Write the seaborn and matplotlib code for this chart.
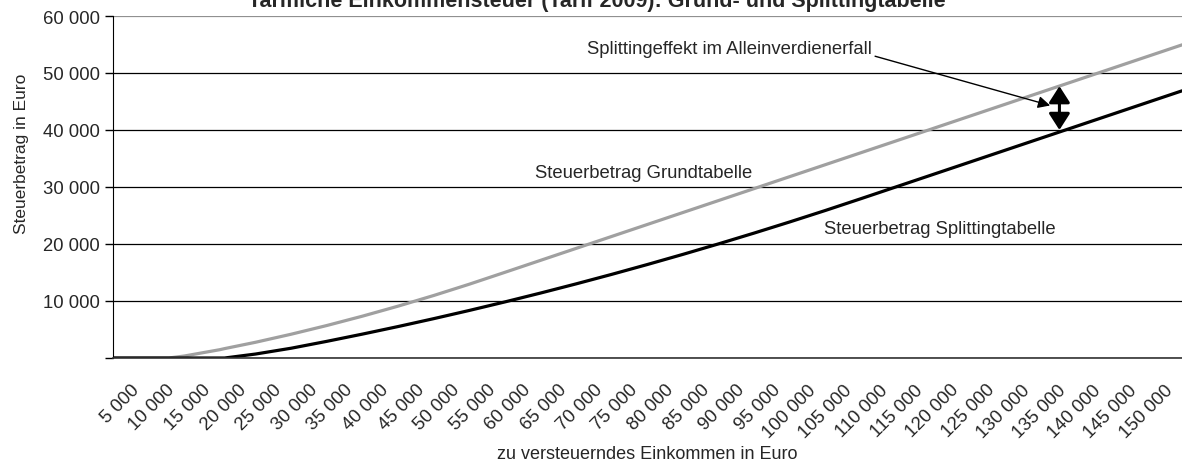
import pandas as pd
import seaborn as sns
import matplotlib.pyplot as plt
from matplotlib.transforms import ScaledTranslation

# zu versteuerndes Einkommen (Euro) and tax amounts
income = [0, 5000, 7834, 10000, 15000, 15668, 20000, 25000, 30000, 35000, 40000,
          45000, 50000, 55000, 60000, 65000, 70000, 75000, 80000, 85000, 90000,
          95000, 100000, 105000, 110000, 115000, 120000, 125000, 130000, 135000,
          140000, 145000, 150000]
grund = [0, 0, 0, 347, 1461, 1650, 2759, 4172, 5699, 7340, 9096,
         10966, 12950, 15036, 17136, 19236, 21336, 23436, 25536, 27636, 29736,
         31836, 33936, 36036, 38136, 40236, 42336, 44436, 46536, 48636,
         50736, 52836, 54936]
splitting = [0, 0, 0, 0, 0, 0, 695, 1716, 2922, 4192, 5518,
             6903, 8344, 9842, 11398, 13010, 14680, 16408, 18192, 20034, 21932,
             23888, 25900, 27972, 30072, 32172, 34272, 36372, 38472, 40572,
             42672, 44772, 46872]

x_ticks = list(range(5000, 150001, 5000))
x_labels = [f"{v:,}".replace(",", " ") for v in x_ticks]
y_ticks = [0, 10000, 20000, 30000, 40000, 50000, 60000]
y_labels = [""] + [f"{v:,}".replace(",", " ") for v in y_ticks[1:]]

df = pd.DataFrame({
    "Einkommen": income * 2,
    "Steuer": grund + splitting,
    "Tabelle": ["Grundtabelle"] * len(income) + ["Splittingtabelle"] * len(income),
})

sns.set_style("white")
plt.rcParams["font.family"] = ["Liberation Sans", "DejaVu Sans"]
fs = 13.3

fig = plt.figure(figsize=(11.82, 4.64), dpi=100)
ax = fig.add_axes([113 / 1182, 1 - 359 / 464, 1 - 113 / 1182, (359 - 17) / 464])

sns.lineplot(data=df, x="Einkommen", y="Steuer", hue="Tabelle",
             palette={"Grundtabelle": "#a0a0a0", "Splittingtabelle": "black"},
             linewidth=2.3, legend=False, ax=ax)

ax.set_xlim(0, 149700)
ax.set_ylim(0, 60000)
ax.set_yticks(y_ticks)
ax.set_yticklabels(y_labels, fontsize=fs)
ax.set_xticks(x_ticks)
ax.set_xticklabels(x_labels, rotation=45, ha="right", rotation_mode="anchor", fontsize=fs)
ax.tick_params(axis="x", length=0, pad=16.5)
ax.tick_params(axis="y", length=6, width=1, color="black", left=True, pad=3.5)
shift = ScaledTranslation(-18 / 100, 0, fig.dpi_scale_trans)
for lab in ax.get_xticklabels():
    lab.set_transform(lab.get_transform() + shift)

ax.yaxis.grid(True, color="black", linewidth=0.9)
ax.get_ygridlines()[-1].set_color("#909090")
ax.get_ygridlines()[-1].set_linewidth(1.6)
ax.set_axisbelow(True)

for s in ["top", "right"]:
    ax.spines[s].set_visible(False)
ax.spines["left"].set_color("black")
ax.spines["bottom"].set_color("#333333")
ax.spines["bottom"].set_linewidth(1.2)

ax.set_xlabel("zu versteuerndes Einkommen in Euro", fontsize=13)
ax.set_ylabel("Steuerbetrag in Euro", fontsize=12.5)
ax.xaxis.set_label_coords(0.5, -0.255)
ax.yaxis.set_label_coords(-0.079, 0.60)

ax.text(74500, 32600, "Steuerbetrag Grundtabelle", ha="center", va="center", fontsize=fs)
ax.text(116000, 22800, "Steuerbetrag Splittingtabelle", ha="center", va="center", fontsize=fs)

ax.annotate("Splittingeffekt im Alleinverdienerfall", xy=(131500, 44300),
            xytext=(66500, 54300), ha="left", va="center", fontsize=fs,
            arrowprops=dict(arrowstyle="-|>", color="black", lw=1,
                            mutation_scale=18, shrinkA=0, shrinkB=0,
                            relpos=(1.0, 0.1)))
ax.annotate("", xy=(132800, 47700), xytext=(132800, 40000),
            arrowprops=dict(arrowstyle="<|-|>,head_length=0.5,head_width=0.32",
                            color="black", lw=2.2,
                            mutation_scale=20, shrinkA=0, shrinkB=0))

fig.text(597 / 1182, 1 - 7 / 464,
         "Tarifliche Einkommensteuer (Tarif 2009): Grund- und Splittingtabelle",
         ha="center", va="baseline", fontsize=15.5, fontweight="bold")

fig.savefig("out.png", dpi=100)
